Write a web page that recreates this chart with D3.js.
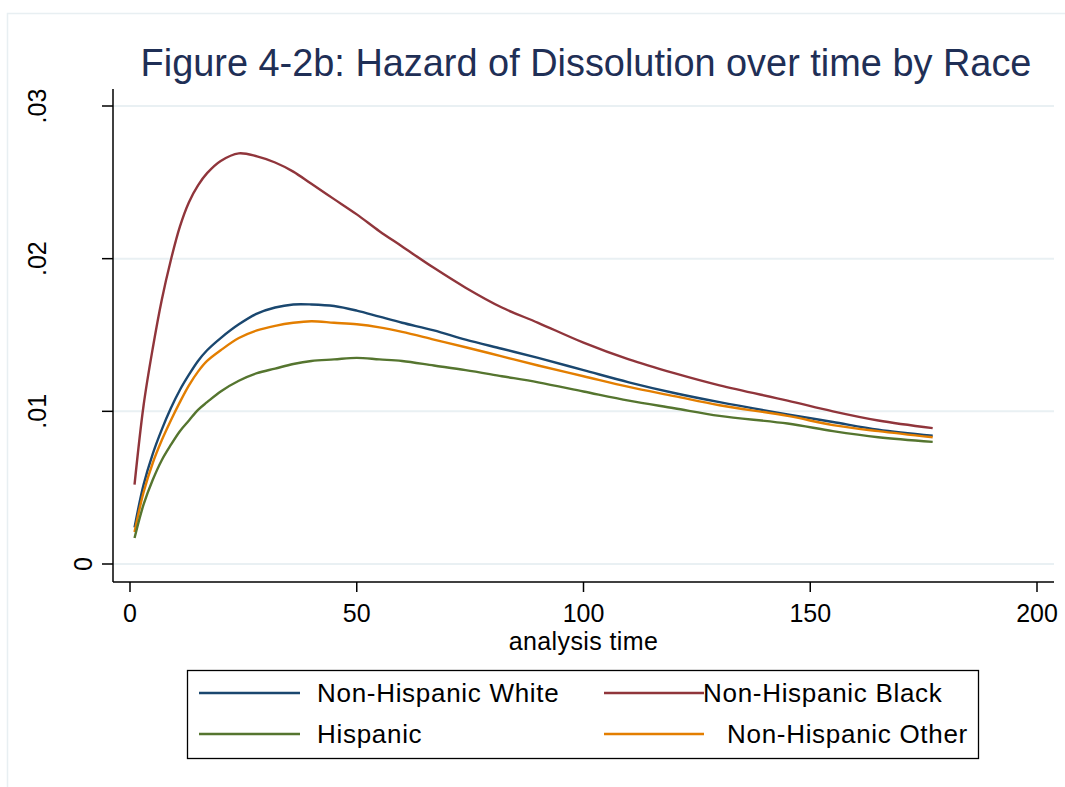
<!DOCTYPE html>
<html>
<head>
<meta charset="utf-8">
<script src="https://cdn.jsdelivr.net/npm/d3@7"></script>
<style>
  html, body { margin: 0; padding: 0; background: #fff; }
  svg { display: block; font-family: Arial, 'Liberation Sans', sans-serif; }
</style>
</head>
<body>
<svg id="chart" width="1065" height="787"></svg>
<script>
// Hazard of dissolution by race, smoothed hazard estimates.
var TIMES = [1, 3, 5, 7, 9, 11, 13, 15, 17, 20, 24, 28, 32, 36, 40, 45, 50,
             55, 60, 67, 74, 82, 90, 100, 110, 120, 130, 145, 155, 165, 177];

var WHITE = [.0024, .0052, .0072, .0088, .0102, .0114, .0124, .0133, .0140, .0148,
             .0157, .0164, .0168, .0170, .0170, .0169, .0166, .0162, .0158, .0153,
             .0147, .0141, .0135, .0127, .0119, .0112, .0106, .0098, .0093, .0088, .0084];
var BLACK = [.0052, .0104, .0141, .0173, .0199, .0221, .0237, .0248, .0256, .0264,
             .0269, .0267, .0263, .0257, .0249, .0239, .0229, .0218, .0208, .0194,
             .0181, .0168, .0158, .0145, .0134, .0125, .0117, .0107, .0100, .0094, .0089];
var HISPANIC = [.0017, .0039, .0055, .0068, .0078, .0087, .0094, .0101, .0106, .0113,
                .0120, .0125, .0128, .0131, .0133, .0134, .0135, .0134, .0133, .0130,
                .0127, .0123, .0119, .0113, .0107, .0102, .0097, .0092, .0087, .0083, .0080];
var OTHER = [.0021, .0047, .0066, .0081, .0094, .0106, .0117, .0126, .0133, .0140,
             .0148, .0153, .0156, .0158, .0159, .0158, .0157, .0155, .0152, .0147,
             .0142, .0136, .0130, .0123, .0116, .0110, .0104, .0097, .0091, .0087, .0083];

var SERIES_NAMES = ['Non-Hispanic White', 'Non-Hispanic Black', 'Hispanic', 'Non-Hispanic Other'];
var SERIES_COLORS = ['#1a476f', '#90353b', '#55752f', '#e37e00'];
var SERIES_VALUES = [WHITE, BLACK, HISPANIC, OTHER];

var X_TICKS = [0, 50, 100, 150, 200];
var Y_TICKS = [0, .01, .02, .03];
var Y_TICK_LABELS = ['0', '.01', '.02', '.03'];

var TITLE = 'Figure 4-2b: Hazard of Dissolution over time by Race';
var X_TITLE = 'analysis time';

(function () {
    var svg = d3.select('#chart');
    var W = 1065, H = 787;

    // plot region (axis lines) and data range
    var P = { left: 113, right: 1054, top: 89, bottom: 582 };
    var x = d3.scaleLinear().domain([0, 200]).range([130, 1037]);
    var y = d3.scaleLinear().domain([0, .03]).range([564, 106]);

    // faint outer frame
    svg.append('rect')
        .attr('x', 7.5).attr('y', 13.5)
        .attr('width', W).attr('height', H)
        .attr('fill', '#fff')
        .attr('stroke', '#e8eff2').attr('stroke-width', 1.5);

    // grid
    var grid = svg.append('g');
    Y_TICKS.forEach(function (v) {
        grid.append('line')
            .attr('x1', P.left).attr('x2', P.right)
            .attr('y1', y(v)).attr('y2', y(v))
            .attr('stroke', '#e9f0f3').attr('stroke-width', 2);
    });

    // series
    var line = d3.line()
        .x(function (d) { return x(d[0]); })
        .y(function (d) { return y(d[1]); })
        .curve(d3.curveCatmullRom.alpha(0.5));
    var drawOrder = [1, 0, 3, 2];
    drawOrder.forEach(function (i) {
        var pts = TIMES.map(function (t, k) { return [t, SERIES_VALUES[i][k]]; });
        svg.append('path')
            .datum(pts)
            .attr('fill', 'none')
            .attr('stroke', SERIES_COLORS[i])
            .attr('stroke-width', 2.4)
            .attr('stroke-linejoin', 'round')
            .attr('d', line);
    });

    // axes
    svg.append('line')
        .attr('x1', P.left).attr('x2', P.left)
        .attr('y1', P.top).attr('y2', P.bottom)
        .attr('stroke', '#000').attr('stroke-width', 1.5);
    svg.append('line')
        .attr('x1', P.left).attr('x2', P.right)
        .attr('y1', P.bottom).attr('y2', P.bottom)
        .attr('stroke', '#000').attr('stroke-width', 1.5);

    Y_TICKS.forEach(function (v, i) {
        svg.append('line')
            .attr('x1', P.left - 11).attr('x2', P.left)
            .attr('y1', y(v)).attr('y2', y(v))
            .attr('stroke', '#000').attr('stroke-width', 1.5);
        // Stata places the lone "0" nearer the axis than the longer labels
        var bx = Y_TICK_LABELS[i].length === 1 ? 92 : 46;
        svg.append('text')
            .attr('transform', 'translate(' + bx + ',' + y(v) + ') rotate(-90)')
            .attr('text-anchor', 'middle')
            .attr('font-size', 25)
            .attr('fill', '#000')
            .text(Y_TICK_LABELS[i]);
    });

    X_TICKS.forEach(function (v) {
        svg.append('line')
            .attr('x1', x(v)).attr('x2', x(v))
            .attr('y1', P.bottom).attr('y2', P.bottom + 10)
            .attr('stroke', '#000').attr('stroke-width', 1.5);
        svg.append('text')
            .attr('x', x(v)).attr('y', 622)
            .attr('text-anchor', 'middle')
            .attr('font-size', 25)
            .attr('fill', '#000')
            .text(v);
    });

    svg.append('text')
        .attr('x', (P.left + P.right) / 2).attr('y', 650)
        .attr('text-anchor', 'middle')
        .attr('font-size', 25)
        .attr('letter-spacing', 0.4)
        .attr('fill', '#000')
        .text(X_TITLE);

    svg.append('text')
        .attr('x', 586).attr('y', 76)
        .attr('text-anchor', 'middle')
        .attr('font-size', 37.9)
        .attr('fill', '#1f2f56')
        .text(TITLE);

    // legend
    var lg = svg.append('g');
    lg.append('rect')
        .attr('x', 187.5).attr('y', 670.5)
        .attr('width', 791).attr('height', 88)
        .attr('fill', '#fff')
        .attr('stroke', '#000').attr('stroke-width', 1.3);
    var cols = [
        { x1: 199, x2: 300, tx: 317 },
        { x1: 604, x2: 704, tx: 703 }
    ];
    var rows = [693, 734];
    // entries in Stata legend order: row-wise, two columns
    [[0, 0, 0], [1, 1, 0], [2, 0, 1], [3, 1, 1]].forEach(function (e) {
        var c = cols[e[1]], ry = rows[e[2]];
        lg.append('line')
            .attr('x1', c.x1).attr('x2', c.x2)
            .attr('y1', ry).attr('y2', ry)
            .attr('stroke', SERIES_COLORS[e[0]]).attr('stroke-width', 2.4);
        lg.append('text')
            .attr('x', e[0] === 3 ? c.tx + 24 : c.tx).attr('y', ry + 9)
            .attr('font-size', 26)
            .attr('letter-spacing', 0.7)
            .attr('fill', '#000')
            .text(SERIES_NAMES[e[0]]);
    });
})();
</script>
</body>
</html>
